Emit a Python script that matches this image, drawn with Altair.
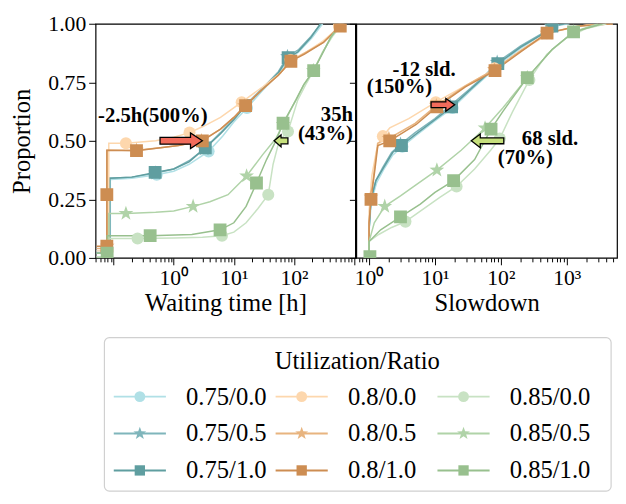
import altair as alt
import pandas as pd

FONT = "Liberation Serif"

SERIES = ["0.75/0.0", "0.75/0.5", "0.75/1.0",
          "0.8/0.0", "0.8/0.5", "0.8/1.0",
          "0.85/0.0", "0.85/0.5", "0.85/1.0"]
COLORS = ["#b0e0e6", "#7fb5bb", "#5f9ea0",
          "#fdd7ad", "#e8b47f", "#cd8d52",
          "#c8e2c3", "#b0d3a8", "#98c08e"]
MARKERS = ["circle", "star", "square"] * 3

# ---- Waiting time panel (hours, proportion) ----
wait_lines = {
    "0.75/0.0": ([0.052, 0.088, 0.088, 0.2, 0.52, 1.0, 1.8, 3.8, 6.5, 10, 16.5, 30, 55, 84, 120, 200, 300],
                 [0.03, 0.03, 0.335, 0.34, 0.355, 0.37, 0.40, 0.455, 0.52, 0.58, 0.64, 0.715, 0.785, 0.85, 0.88, 0.94, 1.0]),
    "0.75/0.5": ([0.052, 0.086, 0.086, 0.2, 0.5, 1.0, 1.8, 3.2, 6, 10, 15, 30, 55, 78, 120, 190, 280],
                 [0.02, 0.02, 0.34, 0.345, 0.362, 0.38, 0.415, 0.465, 0.535, 0.595, 0.65, 0.725, 0.795, 0.86, 0.89, 0.945, 1.0]),
    "0.75/1.0": ([0.052, 0.086, 0.086, 0.2, 0.49, 1.0, 1.8, 3.35, 6, 10, 15.7, 30, 55, 80, 116, 190, 277],
                 [0.02, 0.02, 0.34, 0.345, 0.365, 0.38, 0.41, 0.47, 0.53, 0.59, 0.65, 0.72, 0.79, 0.855, 0.88, 0.94, 1.0]),
    "0.8/0.0": ([0.052, 0.083, 0.083, 0.16, 0.5, 1.0, 1.83, 3, 6, 13.5, 30, 60, 88, 150, 300, 480, 600],
                [0.03, 0.03, 0.49, 0.49, 0.50, 0.515, 0.535, 0.56, 0.60, 0.665, 0.73, 0.79, 0.845, 0.875, 0.925, 0.97, 1.0]),
    "0.8/0.5": ([0.052, 0.078, 0.078, 0.24, 0.6, 1.2, 2.9, 6, 10, 15, 30, 55, 89, 150, 310, 480, 650],
                [0.04, 0.04, 0.46, 0.46, 0.47, 0.48, 0.50, 0.55, 0.60, 0.65, 0.72, 0.78, 0.84, 0.875, 0.92, 0.97, 1.0]),
    "0.8/1.0": ([0.052, 0.077, 0.077, 0.24, 0.6, 1.2, 2.99, 6, 10, 15.7, 30, 55, 89, 150, 310, 490, 700],
                [0.05, 0.05, 0.46, 0.458, 0.47, 0.48, 0.50, 0.55, 0.60, 0.65, 0.72, 0.78, 0.84, 0.87, 0.92, 0.97, 1.0]),
    "0.85/0.0": ([0.052, 0.083, 0.083, 0.25, 1, 3, 6.35, 10, 16, 25, 37.4, 45, 56.8, 79.6, 116, 157, 213, 300, 450, 640],
                 [0.005, 0.005, 0.083, 0.083, 0.085, 0.088, 0.095, 0.11, 0.15, 0.21, 0.27, 0.40, 0.50, 0.54, 0.675, 0.74, 0.80, 0.88, 0.95, 1.0]),
    "0.85/0.5": ([0.052, 0.083, 0.083, 0.16, 0.5, 1.0, 2.1, 4, 8, 16.3, 30, 50, 66, 108, 146, 210, 405, 590],
                 [0.0, 0.0, 0.19, 0.19, 0.195, 0.20, 0.22, 0.24, 0.27, 0.35, 0.44, 0.51, 0.57, 0.675, 0.74, 0.80, 0.94, 1.0]),
    "0.85/1.0": ([0.052, 0.078, 0.078, 0.405, 2, 5.9, 10, 16, 23.8, 35, 50, 65.9, 108, 146, 213, 405, 600],
                 [0.02, 0.02, 0.095, 0.095, 0.10, 0.12, 0.15, 0.22, 0.32, 0.42, 0.50, 0.575, 0.675, 0.74, 0.80, 0.94, 1.0]),
}
wait_marks = {
    "0.75/0.0": ([0.52, 3.8, 16.5, 84], [0.355, 0.455, 0.64, 0.85]),
    "0.75/0.5": ([0.5, 3.2, 15, 78], [0.362, 0.465, 0.65, 0.86]),
    "0.75/1.0": ([0.49, 3.35, 15.7, 80], [0.365, 0.47, 0.65, 0.855]),
    "0.8/0.0": ([0.16, 1.83, 13.5, 88, 560], [0.49, 0.535, 0.665, 0.845, 0.99]),
    "0.8/0.5": ([0.078, 0.24, 2.9, 15, 89, 580], [0.05, 0.46, 0.50, 0.65, 0.84, 0.99]),
    "0.8/1.0": ([0.077, 0.077, 0.24, 2.99, 15.7, 89, 590], [0.05, 0.27, 0.458, 0.50, 0.65, 0.84, 0.99]),
    "0.85/0.0": ([0.25, 6.35, 37.4, 79.6], [0.083, 0.095, 0.27, 0.54]),
    "0.85/0.5": ([0.16, 2.1, 16.3, 66, 210], [0.19, 0.22, 0.35, 0.57, 0.80]),
    "0.85/1.0": ([0.078, 0.405, 5.9, 23.8, 65.9, 213], [0.02, 0.095, 0.12, 0.32, 0.575, 0.80]),
}

# ---- Slowdown panel ----
slow_lines = {
    "0.75/0.0": ([1.0, 1.0, 1.08, 1.3, 1.65, 2.3, 3.2, 5.3, 10, 18.5, 35, 60, 92, 200, 400, 610, 1100],
                 [0.0, 0.11, 0.24, 0.32, 0.375, 0.44, 0.475, 0.525, 0.585, 0.64, 0.715, 0.775, 0.825, 0.895, 0.95, 0.99, 1.0]),
    "0.75/0.5": ([1.0, 1.0, 1.07, 1.27, 1.6, 2.2, 3.0, 5.0, 10, 17, 35, 60, 88, 200, 400, 580, 1000],
                 [0.0, 0.12, 0.25, 0.33, 0.385, 0.45, 0.485, 0.535, 0.595, 0.65, 0.725, 0.785, 0.835, 0.905, 0.955, 0.99, 1.0]),
    "0.75/1.0": ([1.0, 1.0, 1.07, 1.27, 1.62, 2.28, 3.1, 5.2, 10, 17.9, 35, 60, 90, 200, 400, 595, 900],
                 [0.0, 0.12, 0.25, 0.33, 0.38, 0.45, 0.48, 0.53, 0.59, 0.645, 0.72, 0.78, 0.83, 0.90, 0.95, 0.99, 1.0]),
    "0.8/0.0": ([1.0, 1.0, 1.1, 1.3, 1.5, 1.62, 2.06, 4, 10.3, 20, 55.7, 120, 250, 600, 2000, 5000],
                [0.0, 0.2, 0.35, 0.46, 0.51, 0.52, 0.555, 0.595, 0.665, 0.71, 0.78, 0.84, 0.90, 0.965, 0.995, 1.0]),
    "0.8/0.5": ([1.0, 1.0, 1.07, 1.22, 1.35, 2.0, 5.0, 10.5, 29, 80, 200, 500, 1500, 5000],
                [0.0, 0.15, 0.26, 0.39, 0.49, 0.51, 0.575, 0.65, 0.735, 0.805, 0.885, 0.96, 0.99, 1.0]),
    "0.8/1.0": ([1.0, 1.0, 1.07, 1.23, 1.36, 2.06, 5.2, 10.7, 29, 81.6, 200, 503, 1550, 5000],
                [0.0, 0.15, 0.25, 0.38, 0.48, 0.50, 0.57, 0.645, 0.73, 0.80, 0.88, 0.96, 0.99, 1.0]),
    "0.85/0.0": ([1.0, 1.0, 1.4, 2.2, 3.57, 6, 12, 21.3, 40, 70, 96.5, 151, 271, 500, 1000, 2000, 4000],
                 [0.0, 0.07, 0.10, 0.13, 0.155, 0.20, 0.26, 0.305, 0.38, 0.46, 0.51, 0.625, 0.76, 0.87, 0.94, 0.98, 1.0]),
    "0.85/0.5": ([1.0, 1.0, 1.2, 1.73, 3, 4.5, 10.7, 25, 57.6, 107, 252, 600, 1270, 3000],
                 [0.0, 0.07, 0.15, 0.22, 0.265, 0.30, 0.375, 0.46, 0.555, 0.64, 0.77, 0.89, 0.965, 1.0]),
    "0.85/1.0": ([1.0, 1.0, 1.5, 3.0, 6, 10, 19.2, 40, 71, 107, 252, 600, 1270, 3500],
                 [0.0, 0.07, 0.12, 0.175, 0.23, 0.28, 0.33, 0.42, 0.55, 0.625, 0.77, 0.89, 0.965, 1.0]),
}
slow_marks = {
    "0.75/0.0": ([3.2, 18.5, 92, 610], [0.475, 0.64, 0.825, 0.99]),
    "0.75/0.5": ([3.0, 17, 88, 580], [0.485, 0.65, 0.835, 0.99]),
    "0.75/1.0": ([3.1, 17.9, 90, 595], [0.48, 0.645, 0.83, 0.99]),
    "0.8/0.0": ([1.62, 10.3, 80, 500], [0.52, 0.665, 0.81, 0.96]),
    "0.8/0.5": ([1.07, 2.0, 10.5, 80, 500], [0.26, 0.51, 0.65, 0.805, 0.96]),
    "0.8/1.0": ([1.07, 2.06, 10.7, 81.6, 503], [0.25, 0.50, 0.645, 0.80, 0.96]),
    "0.85/0.0": ([3.57, 21.3, 96.5, 271, 1300], [0.155, 0.305, 0.51, 0.76, 0.965]),
    "0.85/0.5": ([1.73, 10.7, 57.6, 252, 1270], [0.22, 0.375, 0.555, 0.77, 0.965]),
    "0.85/1.0": ([1.03, 3.0, 19.2, 71, 252, 1270], [0.005, 0.175, 0.33, 0.55, 0.77, 0.965]),
}

# tick labels shown on each panel
wait_labels = {1: "10⁰", 10: "10¹", 100: "10²"}
slow_labels = {1: "10⁰", 10: "10¹", 100: "10²", 1000: "10³"}

# annotations: (x, y, text, align)
wait_texts = [(0.055, 0.607, "-2.5h(500%)", "left"), (960, 0.612, "35h", "right"), (960, 0.529, "(43%)", "right")]
slow_texts = [(6.85, 0.80, "-12 sld.", "center"), (2.9, 0.73, "(150%)", "center"),
              (557, 0.508, "68 sld.", "center"), (236, 0.425, "(70%)", "center")]
# arrows: (x, y, kind)
wait_arrows = [(1.33, 0.50, "red_long"), (61, 0.50, "green_short")]
slow_arrows = [(13.2, 0.654, "red_short"), (62.9, 0.50, "green_long")]

# ---- styles ----
STAR = ("M0,-1L0.235,-0.324L0.951,-0.309L0.38,0.124L0.588,0.809L0,0.4L-0.588,0.809"
        "L-0.38,0.124L-0.951,-0.309L-0.235,-0.324Z")
SHAPE_RANGE = [STAR if m == "star" else m for m in MARKERS]
PANEL_MSIZE = {"circle": 150, "star": 250, "square": 170}
LEGEND_MSIZE = {"circle": 121, "star": 190, "square": 110}
RED, GREEN = "#f26b5b", "#c6e07c"
ARROWS = {
    "red_long": ("M-1,-0.16L0.44,-0.16L0.44,-0.37L1,0L0.44,0.37L0.44,0.16L-1,0.16Z", 1849, RED),
    "red_short": ("M-1,-0.25L0.25,-0.25L0.25,-0.54L1,0L0.25,0.54L0.25,0.25L-1,0.25Z", 576, RED),
    "green_short": ("M1,-0.43L0,-0.43L0,-0.86L-1,0L0,0.86L0,0.43L1,0.43Z", 196, GREEN),
    "green_long": ("M1,-0.18L-0.45,-0.18L-0.45,-0.42L-1,0L-0.45,0.42L-0.45,0.18L1,0.18Z", 1089, GREEN),
}
IS_MAJOR = "abs(log(datum.value) / LN10 - round(log(datum.value) / LN10)) < 1e-6"
YTICKS = [0, 0.25, 0.5, 0.75, 1.0]
PANEL_H = 238

color_enc = alt.Color("series:N", scale=alt.Scale(domain=SERIES, range=COLORS), legend=None)
shape_enc = alt.Shape("series:N", scale=alt.Scale(domain=SERIES, range=SHAPE_RANGE), legend=None)


def label_expr(labels):
    expr = "''"
    for v, t in sorted(labels.items(), reverse=True):
        expr = f"datum.value == {v} ? '{t}' : ({expr})"
    return expr


def series_frame(d, sizes=None):
    rows = []
    for s in SERIES:
        xs, ys = d[s]
        for i, (xv, yv) in enumerate(zip(xs, ys)):
            row = {"series": s, "x": xv, "y": yv, "i": i}
            if sizes:
                row["msize"] = sizes[MARKERS[SERIES.index(s)]]
            rows.append(row)
    return pd.DataFrame(rows)


def panel(lines, marks, domain, labels, xtitle, left, arrows, texts, width):
    xsc = alt.Scale(type="log", domain=domain, nice=False)
    ysc = alt.Scale(domain=[0, 1], nice=False)
    ticks = [k * 10.0 ** d for d in range(-2, 4) for k in range(1, 10)
             if domain[0] <= k * 10.0 ** d <= domain[1]]
    if left:
        y_axis = alt.Axis(values=YTICKS, format=".2f", tickSize=7, grid=False, orient="left",
                          domain=False, titlePadding=14, labelPadding=3)
        y_title = "Proportion"
    else:
        y_axis = alt.Axis(values=YTICKS, labels=False, tickSize=7, grid=False, orient="left",
                          domain=False)
        y_title = None
    x_axis = alt.Axis(values=ticks, labelExpr=label_expr(labels), grid=False, domain=False,
                      orient="bottom", labelPadding=3, titlePadding=2, labelOverlap=False,
                      tickSize={"condition": {"test": IS_MAJOR, "value": 7}, "value": 4})
    x_enc = alt.X("x:Q", scale=xsc, title=xtitle, axis=x_axis)
    y_enc = alt.Y("y:Q", scale=ysc, title=y_title, axis=y_axis)
    line_layer = alt.Chart(series_frame(lines)).mark_line(strokeWidth=1.5, clip=True).encode(
        x=x_enc, y=y_enc, color=color_enc, order=alt.Order("i:Q"))
    mark_layer = alt.Chart(series_frame(marks, PANEL_MSIZE)).mark_point(
        filled=True, opacity=1, strokeWidth=0, clip=True).encode(
        x=x_enc, y=y_enc, color=color_enc, shape=shape_enc,
        size=alt.Size("msize:Q", scale=None, legend=None))
    layers = [line_layer, mark_layer]
    for ax, ay, kind in arrows:
        path, size, fill = ARROWS[kind]
        layers.append(alt.Chart(pd.DataFrame({"x": [ax], "y": [ay]})).mark_point(
            shape=path, size=size, filled=True, fill=fill, stroke="black",
            strokeWidth=1.3, opacity=1).encode(x=x_enc, y=y_enc))
    for tx, ty, txt, align in texts:
        layers.append(alt.Chart(pd.DataFrame({"x": [tx], "y": [ty], "t": [txt]})).mark_text(
            align=align, baseline="middle", font=FONT, fontSize=21, fontWeight="bold",
            color="black").encode(x=x_enc, y=y_enc, text="t:N"))
    return alt.layer(*layers).properties(width=width, height=PANEL_H)


left_chart = panel(wait_lines, wait_marks, [0.05, 1050], wait_labels, "Waiting time [h]",
                   True, wait_arrows, wait_texts, 264)
right_chart = panel(slow_lines, slow_marks, [0.64, 5800], slow_labels, "Slowdown",
                    False, slow_arrows, slow_texts, 265)

# ---- legend (its view is aligned with the left panel's plot area) ----
leg = pd.DataFrame({
    "series": SERIES,
    "col": [SERIES.index(s) // 3 for s in SERIES],
    "row": [SERIES.index(s) % 3 for s in SERIES],
    "lsize": [LEGEND_MSIZE[m] for m in MARKERS],
})
LEG_W, LEG_H = 526, 158
lx = alt.X("col:Q", scale=alt.Scale(domain=[0, 2], range=[45, 374], nice=False), axis=None)
ly = alt.Y("row:Q", scale=alt.Scale(domain=[0, 2], range=[61, 136], nice=False), axis=None)
box = alt.Chart(pd.DataFrame({"b": [0]})).mark_rect(
    cornerRadius=5, fill="white", stroke="#d0d0d0", strokeWidth=1.2).encode(
    x=alt.value(9), x2=alt.value(524), y=alt.value(1), y2=alt.value(157))
seg = alt.Chart(leg).mark_point(shape="M-1,0L1,0", size=53 * 53, filled=False,
                                strokeWidth=2, opacity=1).encode(x=lx, y=ly, color=color_enc)
sym = alt.Chart(leg).mark_point(filled=True, opacity=1, strokeWidth=0).encode(
    x=lx, y=ly, color=color_enc, shape=shape_enc, size=alt.Size("lsize:Q", scale=None, legend=None))
lab = alt.Chart(leg).mark_text(align="left", baseline="middle", dx=47, font=FONT, fontSize=25,
                               color="black").encode(x=lx, y=ly, text="series:N")
ttl = alt.Chart(pd.DataFrame({"t": ["Utilization/Ratio"]})).mark_text(
    font=FONT, fontSize=25, color="black", baseline="middle").encode(
    x=alt.value(266), y=alt.value(25), text="t:N")
legend_chart = alt.layer(box, seg, sym, lab, ttl).properties(
    width=LEG_W, height=LEG_H,
    view=alt.ViewBackground(stroke="transparent"))

top = alt.hconcat(left_chart, right_chart, spacing=-9)
chart = alt.vconcat(top, legend_chart, spacing=20).properties(
    padding={"left": 0, "top": 0, "right": 0, "bottom": 0}
).configure_view(
    stroke="black", strokeWidth=1.2
).configure_axis(
    labelFont=FONT, titleFont=FONT, labelFontSize=22, titleFontSize=25,
    labelColor="black", titleColor="black", tickColor="black",
    titleFontWeight="normal", tickWidth=1
)

chart.save("out.html", embed_options={"renderer": "svg", "actions": False})
